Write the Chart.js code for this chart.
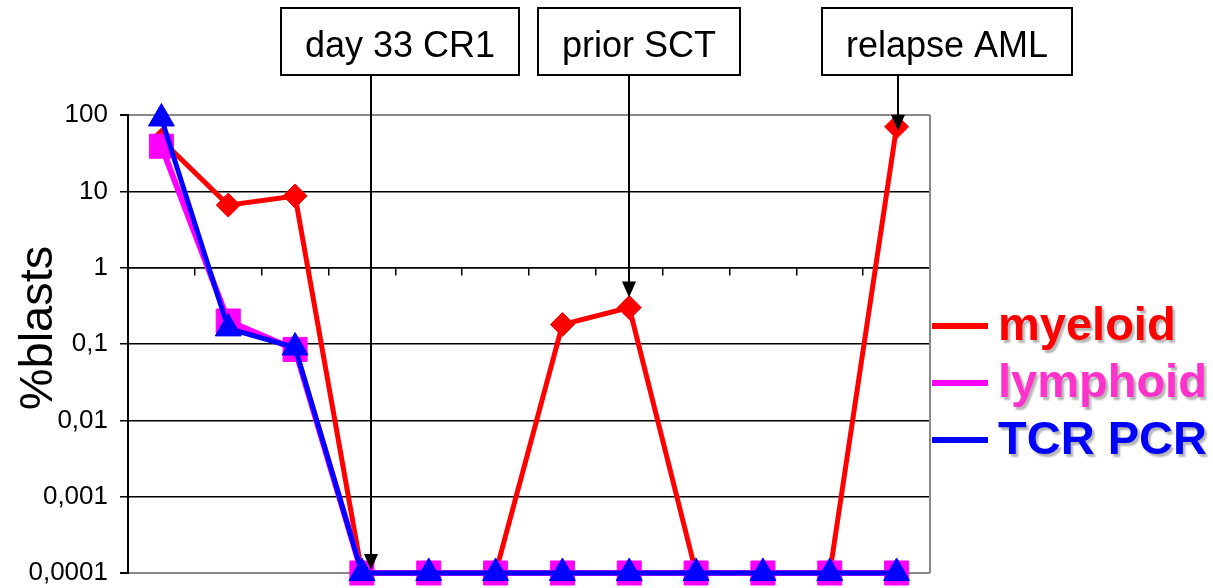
<!DOCTYPE html>
<html>
<head>
<meta charset="utf-8">
<script src="https://cdn.jsdelivr.net/npm/chart.js@4.4.0/dist/chart.umd.min.js"></script>
<style>
  html, body { margin: 0; padding: 0; background: #ffffff; }
  #wrap { width: 1213px; height: 588px; }
</style>
</head>
<body>
<div id="wrap"><canvas id="chart" width="1213" height="588"></canvas></div>
<script>
// Sampling time points (unlabelled on the axis)
const timepoints = ['1', '2', '3', '4', '5', '6', '7', '8', '9', '10', '11', '12'];

// % blasts per method
const myeloid  = [47, 6.6, 8.7, 0.0001, 0.0001, 0.0001, 0.18, 0.3, 0.0001, 0.0001, 0.0001, 70];
const lymphoid = [39, 0.2, 0.085, 0.0001, 0.0001, 0.0001, 0.0001, 0.0001, 0.0001, 0.0001, 0.0001, 0.0001];
const tcrPcr   = [90, 0.16, 0.09, 0.0001, 0.0001, 0.0001, 0.0001, 0.0001, 0.0001, 0.0001, 0.0001, 0.0001];

const seriesNames = ['myeloid', 'lymphoid', 'TCR PCR'];

// Log axis ticks and their printed labels
const yTickValues = [0.0001, 0.001, 0.01, 0.1, 1, 10, 100];
const yTickLabels = ['0,0001', '0,001', '0,01', '0,1', '1', '10', '100'];
const yTitle = '%blasts';

// Clinical events and the time point each one refers to
const eventLabels = ['day 33 CR1', 'prior SCT', 'relapse AML'];
const eventIndex  = [3, 7, 11];

const FONT = '"Liberation Sans", Arial, Helvetica, sans-serif';

// Drawing styles for the callout boxes, arrows and legend
const calloutStyle = {
  boxCenterX: [400.5, 639.5, 947],
  boxTop: 8,
  boxBottom: 75,
  padX: 24,
  textBaseline: 57,
  arrowDx: [9, 0, 1],
  tipDy: [-3, -10, 4],
  headLen: 16,
  headHalf: 7,
  fontSize: 36
};
const legendStyle = {
  lineX0: 932, lineX1: 988, textX: 998, y0: 326, dy: 57,
  lineWidth: 6, fontSize: 47,
  textColors: ['#ff0000', '#ff33cc', '#0000ff']
};

const framePlugin = {
  id: 'frame',
  beforeDatasetsDraw(chart) {
    const { ctx, chartArea: a } = chart;
    ctx.save();
    ctx.strokeStyle = '#888888';
    ctx.lineWidth = 2;
    ctx.beginPath();
    ctx.moveTo(a.right, a.top);
    ctx.lineTo(a.right, a.bottom);
    ctx.stroke();
    ctx.restore();
  }
};

const calloutPlugin = {
  id: 'callouts',
  afterDatasetsDraw(chart) {
    const { ctx } = chart;
    const xs = chart.scales.x, ys = chart.scales.y;
    const s = calloutStyle;
    ctx.save();
    ctx.font = s.fontSize + 'px ' + FONT;
    eventLabels.forEach((label, i) => {
      const w = ctx.measureText(label).width + 2 * s.padX;
      const left = Math.round(s.boxCenterX[i] - w / 2);
      ctx.fillStyle = '#ffffff';
      ctx.fillRect(left, s.boxTop, Math.round(w), s.boxBottom - s.boxTop);
      ctx.strokeStyle = '#000000';
      ctx.lineWidth = 2;
      ctx.strokeRect(left, s.boxTop, Math.round(w), s.boxBottom - s.boxTop);
      ctx.fillStyle = '#000000';
      ctx.textAlign = 'center';
      ctx.textBaseline = 'alphabetic';
      ctx.fillText(label, left + w / 2, s.textBaseline);

      const idx = eventIndex[i];
      const px = Math.round(xs.getPixelForValue(idx)) + s.arrowDx[i];
      const tipY = ys.getPixelForValue(myeloid[idx]) + s.tipDy[i];
      ctx.beginPath();
      ctx.moveTo(px, s.boxBottom);
      ctx.lineTo(px, tipY - s.headLen + 1);
      ctx.lineWidth = 2;
      ctx.stroke();
      ctx.beginPath();
      ctx.moveTo(px, tipY);
      ctx.lineTo(px - s.headHalf, tipY - s.headLen);
      ctx.lineTo(px + s.headHalf, tipY - s.headLen);
      ctx.closePath();
      ctx.fill();
    });
    ctx.restore();
  }
};

const legendTitlePlugin = {
  id: 'legendTitle',
  afterDraw(chart) {
    const { ctx } = chart;
    const L = legendStyle;
    ctx.save();
    // axis title
    ctx.translate(52, 328);
    ctx.rotate(-Math.PI / 2);
    ctx.font = '47px ' + FONT;
    ctx.fillStyle = '#000000';
    ctx.textAlign = 'center';
    ctx.textBaseline = 'alphabetic';
    ctx.fillText(yTitle, 0, 0);
    ctx.restore();

    // legend entries, listed in series order
    seriesNames.forEach((name, i) => {
      const ds = chart.data.datasets.find(d => d.label === name);
      const y = L.y0 + i * L.dy;
      ctx.save();
      ctx.strokeStyle = ds.borderColor;
      ctx.lineWidth = L.lineWidth;
      ctx.beginPath();
      ctx.moveTo(L.lineX0, y);
      ctx.lineTo(L.lineX1, y);
      ctx.stroke();
      ctx.font = 'bold ' + L.fontSize + 'px ' + FONT;
      ctx.textAlign = 'left';
      ctx.textBaseline = 'alphabetic';
      ctx.shadowColor = 'rgba(120,120,120,0.55)';
      ctx.shadowOffsetX = 2.5;
      ctx.shadowOffsetY = 2.5;
      ctx.shadowBlur = 2;
      ctx.fillStyle = L.textColors[i];
      ctx.fillText(name, L.textX, y + 14);
      ctx.restore();
    });
  }
};

new Chart(document.getElementById('chart'), {
  type: 'line',
  data: {
    labels: timepoints,
    datasets: [
      {
        label: seriesNames[0], data: myeloid,
        borderColor: '#ff0000', backgroundColor: '#ff0000',
        borderWidth: 5, pointStyle: 'rectRot', pointRadius: 12, pointHoverRadius: 12,
        pointBorderWidth: 1, order: 3, clip: false
      },
      {
        label: seriesNames[1], data: lymphoid,
        borderColor: '#ff00ff', backgroundColor: '#ff00ff',
        borderWidth: 6, pointStyle: 'rect', pointRadius: 17, pointHoverRadius: 17,
        pointBorderWidth: 1, order: 2, clip: false
      },
      {
        label: seriesNames[2], data: tcrPcr,
        borderColor: '#0000ff', backgroundColor: '#0000ff',
        borderWidth: 5, pointStyle: 'triangle', pointRadius: 15, pointHoverRadius: 15,
        pointBorderWidth: 1, order: 1, clip: false
      }
    ]
  },
  options: {
    responsive: false,
    animation: false,
    events: [],
    devicePixelRatio: 1,
    layout: { autoPadding: false, padding: { left: 0, top: 115, right: 283, bottom: 15 } },
    plugins: {
      legend: { display: false },
      tooltip: { enabled: false },
      title: { display: false }
    },
    scales: {
      x: {
        type: 'category',
        offset: true,
        position: { y: 1 },
        afterFit: (scale) => { scale.height = 0; },
        ticks: { display: false },
        grid: {
          offset: true, drawOnChartArea: false, drawTicks: true,
          tickLength: 7, color: '#000000', lineWidth: 1.5
        },
        border: { display: true, color: '#000000', width: 1.5 }
      },
      y: {
        type: 'logarithmic',
        position: 'left',
        min: 0.0001,
        max: 100,
        afterBuildTicks: (scale) => { scale.ticks = yTickValues.map(v => ({ value: v })); },
        afterFit: (scale) => {
          scale.width = 128;
          scale.paddingTop = 0;
          scale.paddingBottom = 0;
        },
        ticks: {
          autoSkip: false,
          padding: 12,
          color: '#000000',
          font: { family: FONT, size: 26, lineHeight: 1 },
          callback: (value, index) => yTickLabels[index]
        },
        grid: {
          drawTicks: true,
          tickLength: 8,
          tickColor: '#000000',
          color: (c) => (c.tick && (c.tick.value === 100 || c.tick.value === 0.0001)) ? '#888888' : '#000000',
          lineWidth: (c) => (c.tick && (c.tick.value === 100 || c.tick.value === 0.0001)) ? 2 : 1.5
        },
        border: { display: true, color: '#000000', width: 2 }
      }
    }
  },
  plugins: [framePlugin, calloutPlugin, legendTitlePlugin]
});
</script>
</body>
</html>
